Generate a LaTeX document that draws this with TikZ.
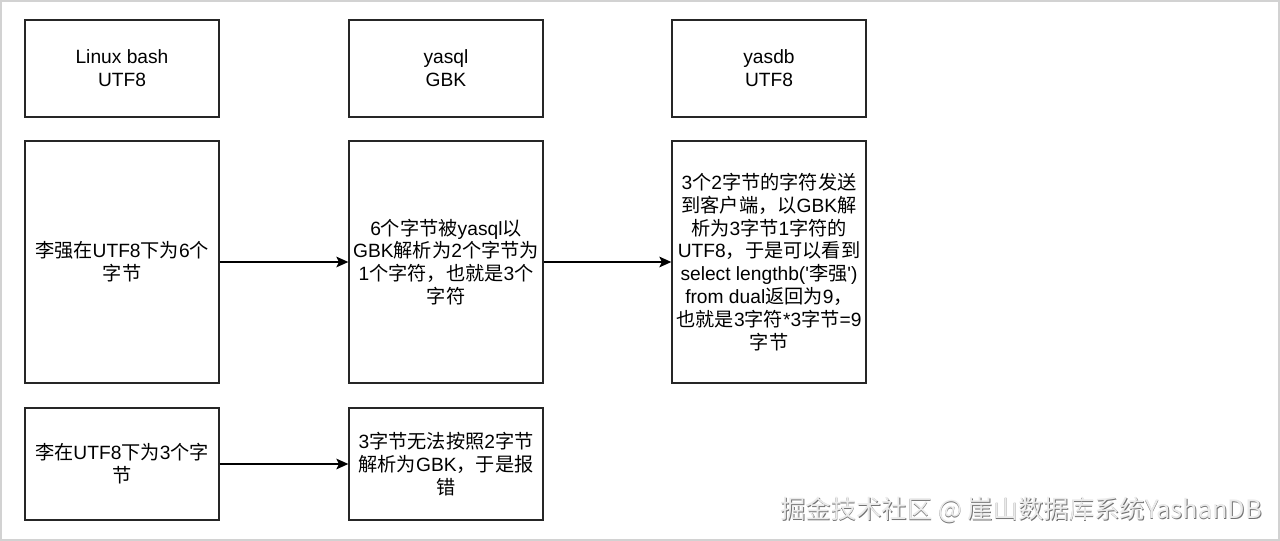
\documentclass[tikz,border=0pt]{standalone}
\usepackage{fontspec}
\setmainfont{Liberation Sans}[Ligatures=TeXOff]
\newfontfamily\cjk{Noto Sans CJK SC}
\usetikzlibrary{arrows.meta}
\newcommand\zh[1]{{\cjk #1}}
\tikzset{
  box/.style={draw=black!85, line width=1pt, rectangle, inner sep=0pt, align=center,
    minimum width=145.5pt, font=\fontsize{14.4}{17.1}\selectfont},
  hbox/.style={box, minimum height=72.75pt},
  tbox/.style={box, minimum height=181.5pt},
  sbox/.style={box, minimum height=84pt},
  conn/.style={line width=1pt, -{Stealth[length=9pt,width=8pt,inset=2pt]}},
  wm/.style={inner sep=0pt, anchor=east, font=\cjk\fontsize{19}{21}\selectfont}
}
\begin{document}
\begin{tikzpicture}[x=0.75pt,y=-0.75pt]
\useasboundingbox (0,0) rectangle (1280,541);
\draw[gray!35, line width=1.5pt] (1,1) rectangle (1278.5,539.5);
% header row
\node[hbox] (h1) at (122,68.5) {Linux bash\\UTF8};
\node[hbox] (h2) at (446,68.5) {yasql\\GBK};
\node[hbox] (h3) at (769,68.5) {yasdb\\UTF8};
% middle row
\node[tbox] (a1) at (122,262) {\zh{李强在}UTF8\zh{下为}6\zh{个}\\\zh{字节}};
\node[tbox] (a2) at (446,262) {6\zh{个字节被}yasql\zh{以}\\GBK\zh{解析为}2\zh{个字节为}\\1\zh{个字符，也就是}3\zh{个}\\\zh{字符}};
\node[tbox] (a3) at (769,262) {3\zh{个}2\zh{字节的字符发送}\\\zh{到客户端，以}GBK\zh{解}\\\zh{析为}3\zh{字节}1\zh{字符的}\\UTF8\zh{，于是可以看到}\\select lengthb('\zh{李强}')\\from dual\zh{返回为}9\zh{，}\\\zh{也就是}3\zh{字符}*3\zh{字节}=9\\\zh{字节}};
% bottom row
\node[sbox] (b1) at (122,464) {\zh{李在}UTF8\zh{下为}3\zh{个字}\\\zh{节}};
\node[sbox] (b2) at (446,464) {3\zh{字节无法按照}2\zh{字节}\\\zh{解析为}GBK\zh{，于是报}\\\zh{错}};
% connectors
\draw[conn] (a1) -- (a2);
\draw[conn] (a2) -- (a3);
\draw[conn] (b1) -- (b2);
% watermark
\node[wm, text=black!55] (w0) at (1263,511) {掘金技术社区 @ 崖山数据库系统YashanDB};
\node[wm, text=white!92!black] (w1) at (1262.2,510.2) {掘金技术社区 @ 崖山数据库系统YashanDB};
\end{tikzpicture}
\end{document}
